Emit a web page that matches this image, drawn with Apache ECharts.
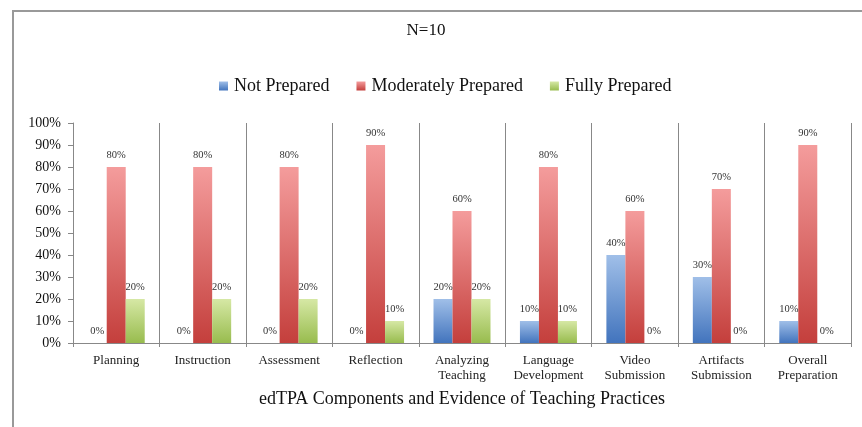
<!DOCTYPE html>
<html>
<head>
<meta charset="utf-8">
<script src="https://cdn.jsdelivr.net/npm/echarts@6/dist/echarts.min.js"></script>
<style>
  html, body { margin: 0; padding: 0; background: #fff; }
  #chart { width: 862px; height: 427px; }
</style>
</head>
<body>
<div id="chart"></div>
<script>
var categories = ['Planning', 'Instruction', 'Assessment', 'Reflection', 'Analyzing\nTeaching',
  'Language\nDevelopment', 'Video\nSubmission', 'Artifacts\nSubmission', 'Overall\nPreparation'];
var notPrepared = [0, 0, 0, 0, 20, 10, 40, 30, 10];
var moderatelyPrepared = [80, 80, 80, 90, 60, 80, 60, 70, 90];
var fullyPrepared = [20, 20, 20, 10, 20, 10, 0, 0, 0];

var serif = '"Liberation Serif", "DejaVu Serif", serif';

function grad(top, bottom) {
  return new echarts.graphic.LinearGradient(0, 0, 0, 1, [
    { offset: 0, color: top },
    { offset: 1, color: bottom }
  ]);
}

var labelStyle = {
  show: true,
  position: 'top',
  distance: 6,
  formatter: '{c}%',
  fontFamily: serif,
  fontSize: 10.5,
  color: '#333'
};

var myChart = echarts.init(document.getElementById('chart'));
myChart.setOption({
  animation: false,
  textStyle: { fontFamily: serif },
  title: {
    text: 'N=10',
    left: 421,
    top: 17,
    textAlign: 'center',
    textStyle: { fontFamily: serif, fontSize: 17, fontWeight: 'normal', color: '#111' }
  },
  legend: {
    left: 214,
    top: 72,
    itemWidth: 9,
    itemHeight: 9,
    itemGap: 27,
    icon: 'rect',
    textStyle: { fontFamily: serif, fontSize: 18, color: '#111', padding: [0, 0, 0, 1] },
    data: ['Not Prepared', 'Moderately Prepared', 'Fully Prepared']
  },
  grid: { left: 73, right: 11, top: 123, bottom: 84 },
  xAxis: {
    type: 'category',
    data: categories,
    name: 'edTPA Components and Evidence of Teaching Practices',
    nameLocation: 'middle',
    nameGap: 47,
    nameTextStyle: { fontFamily: serif, fontSize: 18, color: '#111' },
    axisLine: { lineStyle: { color: '#888', width: 1 } },
    axisTick: { show: true, length: 4, lineStyle: { color: '#888' } },
    axisLabel: { fontFamily: serif, fontSize: 13, color: '#222', lineHeight: 15, margin: 10, interval: 0 },
    splitLine: { show: true, lineStyle: { color: '#888', width: 1 } }
  },
  yAxis: {
    type: 'value',
    min: 0,
    max: 100,
    interval: 10,
    axisLine: { show: true, lineStyle: { color: '#888' } },
    axisTick: { show: true, length: 5, lineStyle: { color: '#888' } },
    axisLabel: { formatter: '{value}%', fontFamily: serif, fontSize: 14, color: '#111', margin: 12 },
    splitLine: { show: false }
  },
  graphic: [{
    type: 'polyline',
    shape: { points: [[13, 427], [13, 11], [862, 11]] },
    style: { stroke: '#999', lineWidth: 2, fill: null }
  }],
  series: [
    {
      name: 'Not Prepared', type: 'bar', data: notPrepared,
      barWidth: 19, barGap: '0%',
      itemStyle: { color: grad('#a0bfe8', '#4274bd') },
      label: labelStyle
    },
    {
      name: 'Moderately Prepared', type: 'bar', data: moderatelyPrepared,
      barWidth: 19, barGap: '0%',
      itemStyle: { color: grad('#f49c9c', '#c43f3c') },
      label: labelStyle
    },
    {
      name: 'Fully Prepared', type: 'bar', data: fullyPrepared,
      barWidth: 19, barGap: '0%',
      itemStyle: { color: grad('#d6e8a5', '#98bc4e') },
      label: labelStyle
    }
  ]
});
</script>
</body>
</html>
